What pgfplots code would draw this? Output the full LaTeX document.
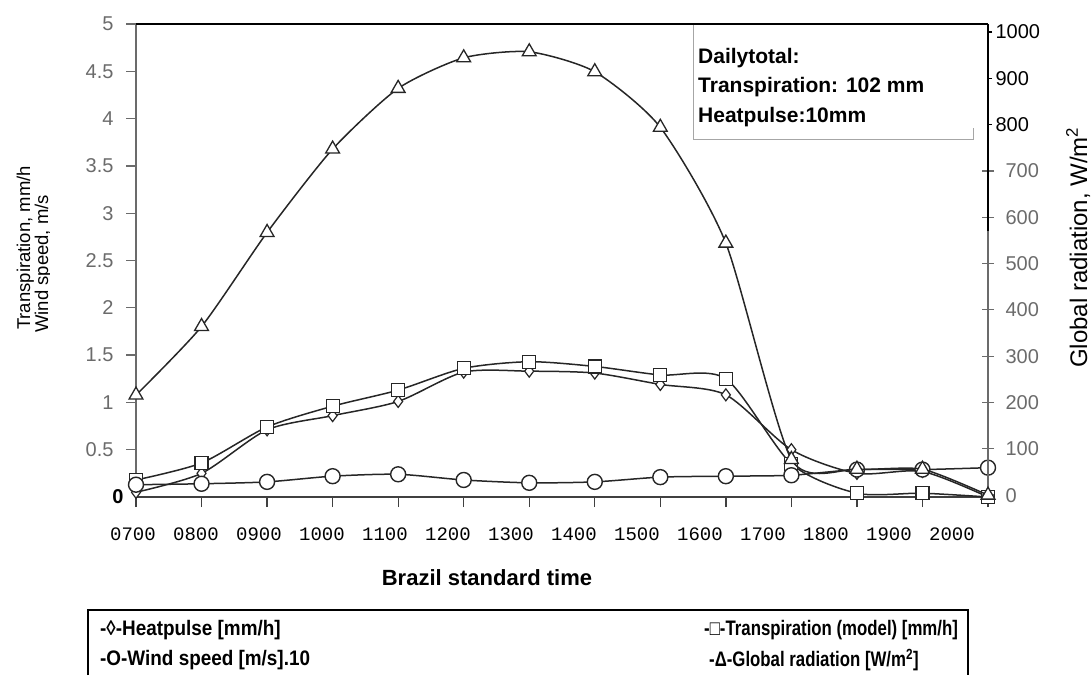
\documentclass[border=0pt]{standalone}
\usepackage{pgfplots}
\pgfplotsset{compat=1.18}
\usepackage{fontspec}
\setmainfont{Liberation Sans}
\newfontfamily\monofont{Liberation Mono}
\definecolor{scan}{gray}{0.42}
\newcommand{\leg}[1]{\scalebox{0.9}[1]{#1}}
\newcommand{\legr}[1]{\scalebox{0.8}[1]{#1}}
\begin{document}
\begin{tikzpicture}[x=1pt,y=1pt]
\path (0,0) rectangle (1092,675);
% left axis title (two lines)
\node[rotate=90, anchor=base west, inner sep=0, font=\fontsize{18.5}{20}\selectfont] at (30,345) {Transpiration, mm/h};
\node[rotate=90, anchor=base west, inner sep=0, font=\fontsize{18.5}{20}\selectfont] at (48,342) {Wind speed, m/s};
\fill[white] (49.5,320) rectangle (125,500);

\begin{axis}[
  at={(136pt,178pt)}, anchor=south west,
  scale only axis, width=852pt, height=473pt,
  xmin=0, xmax=13, ymin=0, ymax=5,
  clip=false,
  axis x line*=bottom, axis y line*=left,
  x axis line style={draw=black!75, line width=1.5pt, -},
  y axis line style={draw=scan, line width=1.5pt, -},
  /pgf/number format/assume math mode=true,
  xtick={0,...,13},
  xticklabels={0700,0800,0900,1000,1100,1200,1300,1400,1500,1600,1700,1800,1900,2000},
  xticklabel style={font=\monofont\fontsize{19}{20}\selectfont, xshift={-3-2.54*\ticknum}, yshift=-17},
  xtick align=outside, ytick align=outside,
  major tick length=10pt,
  xtick style={draw=black!75, line width=1.3pt},
  ytick style={draw=scan, line width=1.3pt},
  ytick={0.5,1,...,5},
  yticklabel style={text=scan, font=\fontsize{20}{22}\selectfont, xshift=-9},
  extra y ticks={0}, extra y tick labels={\textbf{0}},
  extra y tick style={yticklabel style={text=black}, major tick length=0pt},
]
\addplot[black!85, line width=1.5pt, smooth, tension=0.45, mark=diamond*, mark size=6pt, mark options={fill=white, solid, line width=1.2pt}] coordinates {
(0,0.05)(1,0.25)(2,0.71)(3,0.86)(4,1.01)(5,1.32)(6,1.33)(7,1.31)(8,1.19)(9,1.08)(10,0.50)(11,0.25)(12,0.27)(13,0.0)};
\addplot[black!85, line width=1.5pt, smooth, tension=0.45, mark=square*, mark size=6.5pt, mark options={fill=white, solid, line width=1.2pt}] coordinates {
(0,0.18)(1,0.36)(2,0.74)(3,0.96)(4,1.13)(5,1.36)(6,1.43)(7,1.38)(8,1.29)(9,1.25)(10,0.35)(11,0.04)(12,0.04)(13,0.0)};
\addplot[black!85, line width=1.5pt, smooth, tension=0.45, mark=*, mark size=7.5pt, mark options={fill=white, solid, line width=1.4pt}] coordinates {
(0,0.13)(1,0.14)(2,0.16)(3,0.22)(4,0.24)(5,0.18)(6,0.15)(7,0.16)(8,0.21)(9,0.22)(10,0.23)(11,0.29)(12,0.29)(13,0.31)};
\draw[black, line width=1.6pt] (rel axis cs:0,1) -- (rel axis cs:1,1);
\end{axis}

\begin{axis}[
  at={(136pt,178pt)}, anchor=south west,
  scale only axis, width=852pt, height=473pt,
  xmin=0, xmax=13, ymin=-4, ymax=1017,
  clip=false,
  axis x line=none, axis y line*=right,
  y axis line style={draw=scan, line width=1.5pt, -},
  /pgf/number format/assume math mode=true,
  /pgf/number format/1000 sep={},
  ytick={0,100,...,700},
  ytick align=center, major tick length=12pt,
  ytick style={draw=scan, line width=1.3pt},
  yticklabel style={text=scan, font=\fontsize{20}{22}\selectfont, xshift=8},
  extra y ticks={800,900,1000},
  extra y tick style={tick align=outside, major tick length=4pt, ytick style={draw=black}, yticklabel style={text=black, xshift=-8}},
]
\addplot[black!85, line width=1.5pt, smooth, tension=0.4, mark=triangle*, mark size=8pt, mark options={fill=white, solid, line width=1.3pt}] coordinates {
(0,216)(1,364)(2,567)(3,747)(4,878)(5,944)(6,957)(7,914)(8,794)(9,544)(10,77)(11,56)(12,56)(13,0)};
\draw[black, line width=1.6pt] (rel axis cs:1,1) -- (axis cs:13,570);
\end{axis}

% daily total box
\fill[white] (693,535) rectangle (973,650);
\draw[gray!70, line width=1pt] (693,650) -- (693,535) -- (973,535) -- (973,547);
\node[anchor=base west, inner sep=0, font=\bfseries\fontsize{21}{24}\selectfont] at (698,611) {Dailytotal:};
\node[anchor=base west, inner sep=0, font=\bfseries\fontsize{21}{24}\selectfont] at (698,582) {Transpiration: 102 mm};
\node[anchor=base west, inner sep=0, font=\bfseries\fontsize{21}{24}\selectfont] at (698,552) {Heatpulse:10mm};

% right axis title
\node[rotate=90, anchor=base west, inner sep=0, font=\fontsize{24}{26}\selectfont] at (1087,307) {Global radiation, W/m\textsuperscript{2}};

% x axis title
\node[font=\bfseries\fontsize{22}{24}\selectfont] at (487,97) {Brazil standard time};

% legend
\draw[black, line width=1.3pt] (88,0) -- (88,65) -- (968,65) -- (968,0);
\node[anchor=west, inner sep=0, font=\bfseries\fontsize{21}{24}\selectfont] at (100,45) {\leg{-◊-Heatpulse [mm/h]}};
\node[anchor=west, inner sep=0, font=\bfseries\fontsize{21}{24}\selectfont] at (100,15) {\leg{-O-Wind speed [m/s].10}};
\node[anchor=west, inner sep=0, font=\bfseries\fontsize{21}{24}\selectfont] at (704,45) {\legr{-□-Transpiration (model) [mm/h]}};
\node[anchor=west, inner sep=0, font=\bfseries\fontsize{21}{24}\selectfont] at (709,15) {\legr{-Δ-Global radiation [W/m\textsuperscript{2}]}};
\end{tikzpicture}
\end{document}
